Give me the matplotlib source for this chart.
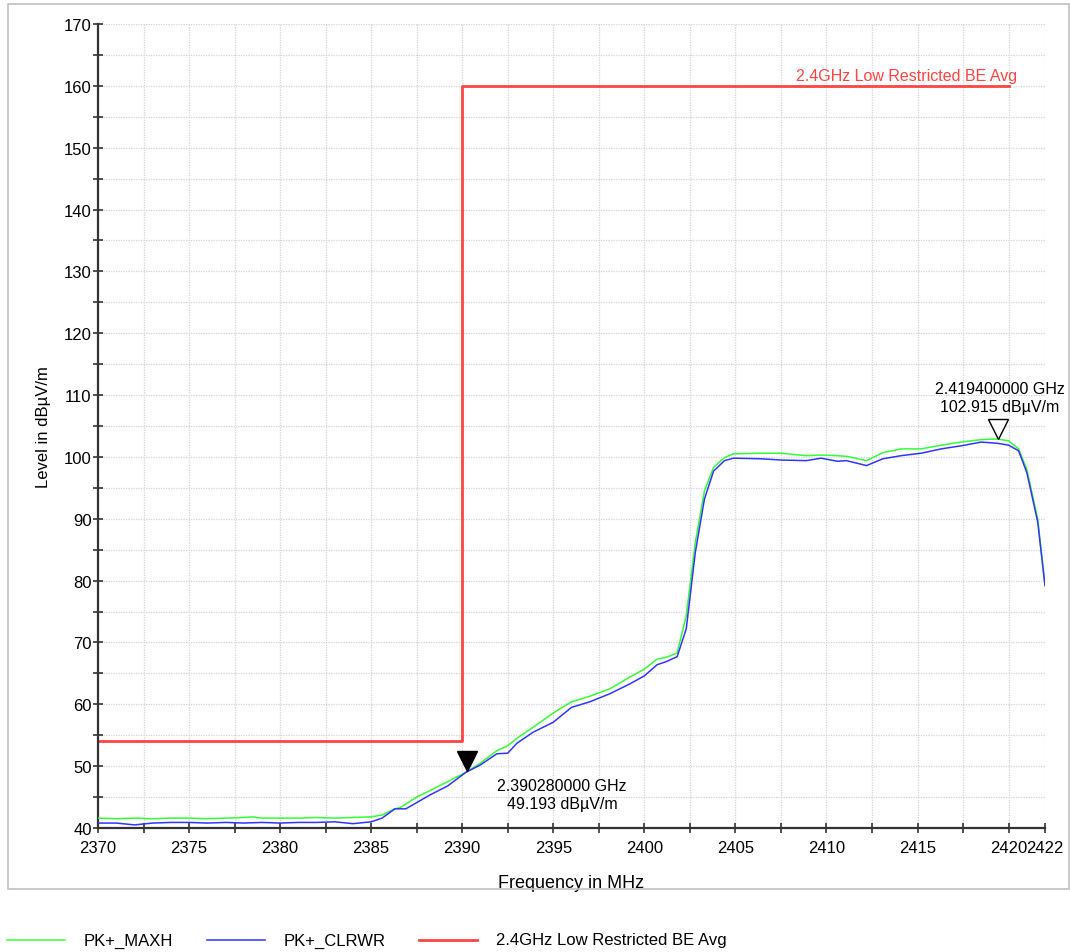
import numpy as np
import matplotlib
matplotlib.use("Agg")
import matplotlib.pyplot as plt
from matplotlib.lines import Line2D
from matplotlib.patches import Rectangle
from matplotlib.ticker import MultipleLocator, FixedLocator

plt.rcParams['font.family'] = ['Liberation Sans', 'DejaVu Sans']

# ------------------------------
# Data
# ------------------------------
freq_maxh = [2370, 2371, 2372, 2373, 2374, 2375, 2376, 2377, 2378, 2378.5, 2379, 2380,
             2381, 2382, 2383, 2384, 2385, 2385.6, 2386.3, 2386.6, 2387.5, 2388.2, 2389.2,
             2390.2, 2391.0, 2391.9, 2392.5, 2393.0, 2393.9, 2395.0, 2396.0, 2397.0,
             2398.1, 2399.2, 2400.0, 2400.7, 2401.2, 2401.8, 2402.3, 2402.8, 2403.3,
             2403.8, 2404.4, 2404.9, 2406.4, 2407.5, 2408.9, 2409.7, 2410.6, 2411.1,
             2412.2, 2413.1, 2414.1, 2415.2, 2416.3, 2417.4, 2418.5, 2419.4, 2420.0,
             2420.55, 2421.0, 2421.6, 2422]
level_maxh = [41.6, 41.5, 41.6, 41.5, 41.6, 41.6, 41.5, 41.6, 41.7, 41.8, 41.6, 41.6,
              41.6, 41.7, 41.6, 41.7, 41.8, 42.1, 43.1, 43.3, 45.0, 46.0, 47.5,
              49.0, 50.5, 52.5, 53.3, 54.5, 56.3, 58.6, 60.4, 61.3,
              62.5, 64.4, 65.7, 67.3, 67.6, 68.3, 74.3, 86.2, 94.5,
              98.3, 99.9, 100.5, 100.6, 100.6, 100.2, 100.3, 100.2, 100.1,
              99.4, 100.7, 101.3, 101.3, 101.9, 102.4, 102.8, 102.9, 102.6,
              101.3, 98.0, 90.0, 79.2]

freq_clrwr = [2370, 2371, 2372, 2373, 2374, 2375, 2376, 2377, 2378, 2379, 2380,
              2381, 2382, 2383, 2384, 2385, 2385.6, 2386.3, 2386.9, 2387.5, 2388.2,
              2389.2, 2390.2, 2391.0, 2391.9, 2392.5, 2393.0, 2393.9, 2395.0, 2396.0,
              2397.0, 2398.1, 2399.2, 2400.0, 2400.7, 2401.2, 2401.8, 2402.3, 2402.8,
              2403.3, 2403.8, 2404.4, 2404.9, 2406.4, 2407.5, 2408.9, 2409.7, 2410.6,
              2411.1, 2412.2, 2413.1, 2414.1, 2415.2, 2416.3, 2417.4, 2418.5, 2419.4,
              2420.0, 2420.55, 2421.0, 2421.6, 2422]
level_clrwr = [40.8, 40.8, 40.5, 40.8, 40.9, 40.9, 40.8, 40.9, 40.8, 40.9, 40.8,
               40.9, 40.9, 41.0, 40.7, 41.0, 41.6, 43.1, 43.1, 44.1, 45.3,
               46.8, 49.0, 50.2, 52.0, 52.1, 53.7, 55.5, 57.1, 59.5,
               60.4, 61.7, 63.3, 64.6, 66.4, 66.9, 67.7, 72.2, 84.6,
               93.2, 97.7, 99.4, 99.8, 99.7, 99.5, 99.4, 99.8, 99.3,
               99.4, 98.6, 99.7, 100.2, 100.6, 101.3, 101.8, 102.4, 102.2,
               101.9, 101.0, 97.5, 89.5, 79.2]

limit_freq = [2370, 2390, 2390, 2420]
limit_level = [54, 54, 160, 160]
limit_name = '2.4GHz Low Restricted BE Avg'

marker_freq = [2390.28, 2419.4]
marker_level = [49.193, 102.915]

x_ticks = [2370, 2375, 2380, 2385, 2390, 2395, 2400, 2405, 2410, 2415, 2420, 2422]

# ------------------------------
# Figure
# ------------------------------
W, H = 1070, 953
fig = plt.figure(figsize=(W / 100, H / 100), dpi=100)
ax = fig.add_axes([98 / W, 1 - 829 / H, (1045 - 98) / W, (829 - 25) / H])

green = '#33ff33'
blue = '#3333ff'
red = '#ff4444'

ax.plot(freq_maxh, level_maxh, color=green, lw=1.1, zorder=3)
ax.plot(freq_clrwr, level_clrwr, color=blue, lw=1.1, zorder=3)
ax.plot(limit_freq, limit_level, color=red, lw=2, zorder=2)

ax.text(2420.45, 160.45, limit_name, color=red, fontsize=11.5,
        ha='right', va='bottom')

# markers (tip of triangle on the point)
ax.plot(marker_freq[0], marker_level[0] + 1.6, marker='v', ms=15, color='black',
        mec='black', zorder=5, clip_on=False)
ax.text(marker_freq[0] + 5.2, marker_level[0] - 1.1,
        f'{marker_freq[0] / 1000:.9f} GHz\n{marker_level[0]:.3f} dBµV/m',
        fontsize=11.5, ha='center', va='top', linespacing=1.25)
ax.plot(marker_freq[1], marker_level[1] + 1.6, marker='v', ms=15, mfc='white',
        mec='black', mew=1, zorder=5, clip_on=False)
ax.text(marker_freq[1] + 0.1, marker_level[1] + 4.0,
        f'{marker_freq[1] / 1000:.9f} GHz\n{marker_level[1]:.3f} dBµV/m',
        fontsize=11.5, ha='center', va='bottom', linespacing=1.25)

ax.set_xlim(2370, 2422)
ax.set_ylim(40, 170)
ax.xaxis.set_major_locator(FixedLocator(x_ticks))
ax.xaxis.set_minor_locator(MultipleLocator(2.5))
ax.yaxis.set_major_locator(MultipleLocator(10))
ax.yaxis.set_minor_locator(MultipleLocator(5))
ax.grid(True, which='both', color='#d4d4d4', ls=(0, (1, 1)), lw=0.9)
ax.set_axisbelow(True)

for s in ['top', 'right']:
    ax.spines[s].set_visible(False)
for s in ['left', 'bottom']:
    ax.spines[s].set_color('#333333')
    ax.spines[s].set_linewidth(1.6)

ax.tick_params(which='both', direction='inout', length=7, width=1.2, color='#333333',
               labelsize=12)
ax.tick_params(axis='x', pad=5)
ax.tick_params(axis='y', pad=1)

ax.set_xlabel('Frequency in MHz', fontsize=13, labelpad=14)
ax.set_ylabel('Level in dBµV/m', fontsize=12, labelpad=9)

# outer frame
fig.patches.append(Rectangle((8 / W, 1 - 890 / H), (W - 9) / W, 885 / H,
                             transform=fig.transFigure, fill=False,
                             ec='#c0c0c0', lw=1.2))

# legend along the bottom
legend_items = [('PK+_MAXH', green, 1.1, 7), ('PK+_CLRWR', blue, 1.1, 207),
                (limit_name, red, 2, 419)]
ly = 1 - 941 / H
for label, col, lw, x0 in legend_items:
    fig.add_artist(Line2D([x0 / W, (x0 + 58) / W], [ly, ly], color=col, lw=lw,
                          transform=fig.transFigure))
    fig.text((x0 + 77) / W, ly, label, fontsize=12, va='center', ha='left')

fig.savefig('out.png', dpi=100)
